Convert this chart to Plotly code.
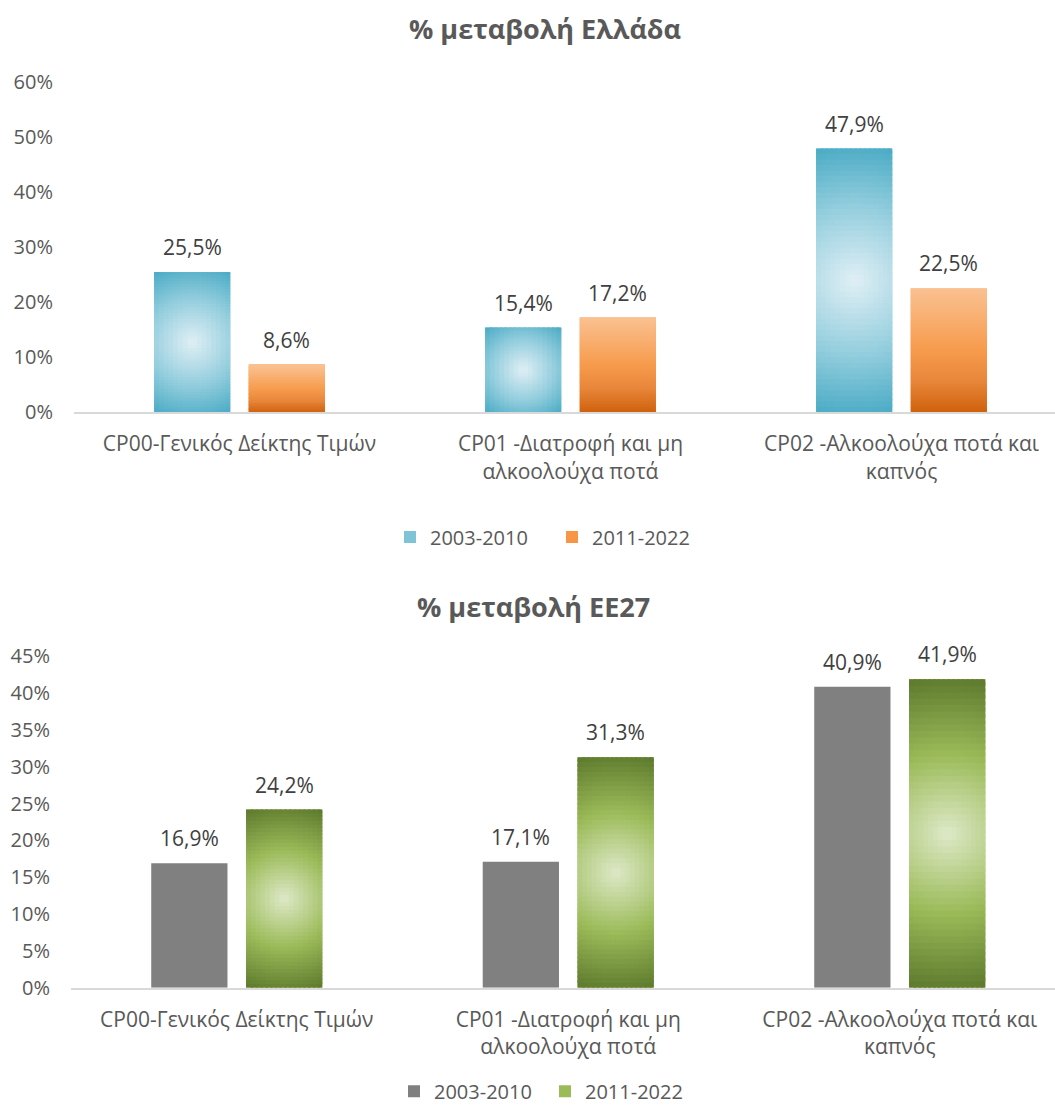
import numpy as np
import plotly.graph_objects as go

# ---------------- data ----------------
categories = [
    "CP00-Γενικός Δείκτης Τιμών",
    "CP01 -Διατροφή και μη αλκοολούχα ποτά",
    "CP02 -Αλκοολούχα ποτά και καπνός",
]
tick_labels = [
    "CP00-Γενικός Δείκτης Τιμών",
    "CP01 -Διατροφή και μη<br>αλκοολούχα ποτά",
    "CP02 -Αλκοολούχα ποτά και<br>καπνός",
]
series_names = ["2003-2010", "2011-2022"]
greece_2003_2010 = [25.5, 15.4, 47.9]
greece_2011_2022 = [8.6, 17.2, 22.5]
eu27_2003_2010 = [16.9, 17.1, 40.9]
eu27_2011_2022 = [24.2, 31.3, 41.9]
chart_titles = ["% μεταβολή Ελλάδα", "% μεταβολή ΕΕ27"]

# ---------------- styling ----------------
FONT = "Open Sans"
TXT = "#595959"
LBL = "#404040"
W, H = 1055, 1111
BAR_W = 0.23
OFF_A = -0.258
OFF_B = 0.028

BLUE_STOPS = [(0.0, "#e0eff5"), (0.55, "#92cddd"), (1.0, "#4aabc5")]
ORANGE_STOPS = [(0.0, "#fac191"), (0.5, "#f79b4d"), (0.75, "#e8863a"), (1.0, "#cf610c")]
GREEN_STOPS = [(0.0, "#dee9c8"), (0.5, "#9bbb59"), (1.0, "#5d792d")]


def hex2rgb(h):
    h = h.lstrip("#")
    return [int(h[i:i + 2], 16) for i in (0, 2, 4)]


def interp(stops, t):
    t = min(max(t, 0.0), 1.0)
    for (t0, c0), (t1, c1) in zip(stops[:-1], stops[1:]):
        if t <= t1:
            f = (t - t0) / (t1 - t0) if t1 > t0 else 0
            a, b = hex2rgb(c0), hex2rgb(c1)
            return "rgb(%d,%d,%d)" % tuple(round(a[k] + (b[k] - a[k]) * f) for k in range(3))
    return "rgb(%d,%d,%d)" % tuple(hex2rgb(stops[-1][1]))


def gradient_trace(values, off, ymax, plot_h, unit_px, stops, mode, xa, ya, C=16, R=48):
    """Gradient fill of the bars, built as a mosaic of small bar cells."""
    xs, ys, bases, offs, ws, cols = [], [], [], [], [], []
    for cat, v in zip(categories, values):
        val = v / 100.0
        wpx = BAR_W * unit_px
        hpx = val / ymax * plot_h
        half_diag = 0.5 * np.hypot(wpx, hpx)
        rowh = val / R
        colw = BAR_W / C
        for r in range(R):
            for c in range(C):
                b = r * rowh
                h = min(rowh * 1.6, val - b)
                o = off + c * colw
                w = min(colw * 1.6, off + BAR_W - o)
                if mode == "radial":
                    du = ((c + 0.5) / C - 0.5) * wpx
                    dv = ((r + 0.5) / R - 0.5) * hpx
                    t = np.hypot(du, dv) / half_diag
                else:
                    t = 1.0 - (r + 0.5) / R
                xs.append(cat)
                ys.append(h)
                bases.append(b)
                offs.append(o)
                ws.append(w)
                cols.append(interp(stops, t))
    return go.Bar(x=xs, y=ys, base=bases, offset=offs, width=ws,
                  marker=dict(color=cols, line=dict(width=0)),
                  showlegend=False, hoverinfo="skip", xaxis=xa, yaxis=ya)


TOP = dict(left=74, top=69.7, bottom=408.2, unit=331.0, ymax=0.6, dtick=0.1, standoff=12)
BOT = dict(left=71, top=658.5, bottom=997.9, unit=331.5, ymax=0.45, dtick=0.05, standoff=12)

fig = go.Figure()

ph_top = TOP["bottom"] - TOP["top"]
fig.add_trace(go.Bar(x=categories, y=[v / 100 for v in greece_2003_2010], name=series_names[0],
                     offset=OFF_A, width=BAR_W, marker=dict(color="#7fc3d7", line=dict(width=0)),
                     xaxis="x", yaxis="y", legend="legend"))
fig.add_trace(go.Bar(x=categories, y=[v / 100 for v in greece_2011_2022], name=series_names[1],
                     offset=OFF_B, width=BAR_W, marker=dict(color="#f79646", line=dict(width=0)),
                     xaxis="x", yaxis="y", legend="legend"))
fig.add_trace(gradient_trace(greece_2003_2010, OFF_A, TOP["ymax"], ph_top, TOP["unit"], BLUE_STOPS, "radial", "x", "y"))
fig.add_trace(gradient_trace(greece_2011_2022, OFF_B, TOP["ymax"], ph_top, TOP["unit"], ORANGE_STOPS, "linear", "x", "y", C=1, R=60))

ph_bot = BOT["bottom"] - BOT["top"]
fig.add_trace(go.Bar(x=categories, y=[v / 100 for v in eu27_2003_2010], name=series_names[0],
                     offset=OFF_A, width=BAR_W, marker=dict(color="#808080", line=dict(width=0)),
                     xaxis="x2", yaxis="y2", legend="legend2"))
fig.add_trace(go.Bar(x=categories, y=[v / 100 for v in eu27_2011_2022], name=series_names[1],
                     offset=OFF_B, width=BAR_W, marker=dict(color="#9bbb59", line=dict(width=0)),
                     xaxis="x2", yaxis="y2", legend="legend2"))
fig.add_trace(gradient_trace(eu27_2011_2022, OFF_B, BOT["ymax"], ph_bot, BOT["unit"], GREEN_STOPS, "radial", "x2", "y2"))

annotations = []
for vals, off, xr, yr in [(greece_2003_2010, OFF_A, "x", "y"), (greece_2011_2022, OFF_B, "x", "y"),
                          (eu27_2003_2010, OFF_A, "x2", "y2"), (eu27_2011_2022, OFF_B, "x2", "y2")]:
    for i, v in enumerate(vals):
        annotations.append(dict(x=i + off + BAR_W / 2, y=v / 100, xref=xr, yref=yr,
                                text=("%.1f%%" % v).replace(".", ","), showarrow=False,
                                yanchor="middle", yshift=25,
                                font=dict(family=FONT, size=21, color=LBL)))

annotations.append(dict(x=545 / W, y=1 - 15 / H, xref="paper", yref="paper", text="<b>%s</b>" % chart_titles[0],
                        showarrow=False, xanchor="center", yanchor="middle",
                        font=dict(family=FONT, size=27, color=TXT)))
annotations.append(dict(x=533 / W, y=1 - 607 / H, xref="paper", yref="paper", text="<b>%s</b>" % chart_titles[1],
                        showarrow=False, xanchor="center", yanchor="middle",
                        font=dict(family=FONT, size=27, color=TXT)))


def xaxis_cfg(g):
    span = (W - g["left"]) / g["unit"]
    return dict(domain=[g["left"] / W, 1.0], range=[-0.5, -0.5 + span], type="category",
                tickmode="array", tickvals=categories, ticktext=tick_labels,
                showline=True, linecolor="#d9d9d9", linewidth=1.5, showgrid=False,
                ticks="", zeroline=False, ticklabelstandoff=g["standoff"],
                tickfont=dict(family=FONT, size=21, color=TXT))


def yaxis_cfg(g, anchor):
    return dict(domain=[1 - g["bottom"] / H, 1 - g["top"] / H], range=[0, g["ymax"]],
                dtick=g["dtick"], tick0=0, tickformat=".0%", showgrid=False, zeroline=False,
                showline=False, ticks="", ticklabelstandoff=20, anchor=anchor,
                tickfont=dict(family=FONT, size=20, color=TXT))


fig.update_layout(
    width=W, height=H, margin=dict(l=0, r=0, t=0, b=0),
    paper_bgcolor="white", plot_bgcolor="white",
    barmode="overlay", separators=",.", hovermode=False,
    font=dict(family=FONT, color=TXT),
    xaxis=dict(xaxis_cfg(TOP), anchor="y"),
    yaxis=yaxis_cfg(TOP, "x"),
    xaxis2=dict(xaxis_cfg(BOT), anchor="y2"),
    yaxis2=yaxis_cfg(BOT, "x2"),
    legend=dict(orientation="h", x=390 / W, xanchor="left", y=1 - 536 / H, yanchor="middle",
                entrywidth=117, entrywidthmode="pixels",
                font=dict(family=FONT, size=20, color=TXT), bgcolor="rgba(0,0,0,0)"),
    legend2=dict(orientation="h", x=394 / W, xanchor="left", y=1 - 1104 / H, yanchor="middle",
                 entrywidth=106, entrywidthmode="pixels",
                 font=dict(family=FONT, size=20, color=TXT), bgcolor="rgba(0,0,0,0)"),
    annotations=annotations,
)

fig.write_html("out.html", config={"displayModeBar": False},
               post_script="document.body.style.margin='0';document.body.style.overflow='hidden';")
